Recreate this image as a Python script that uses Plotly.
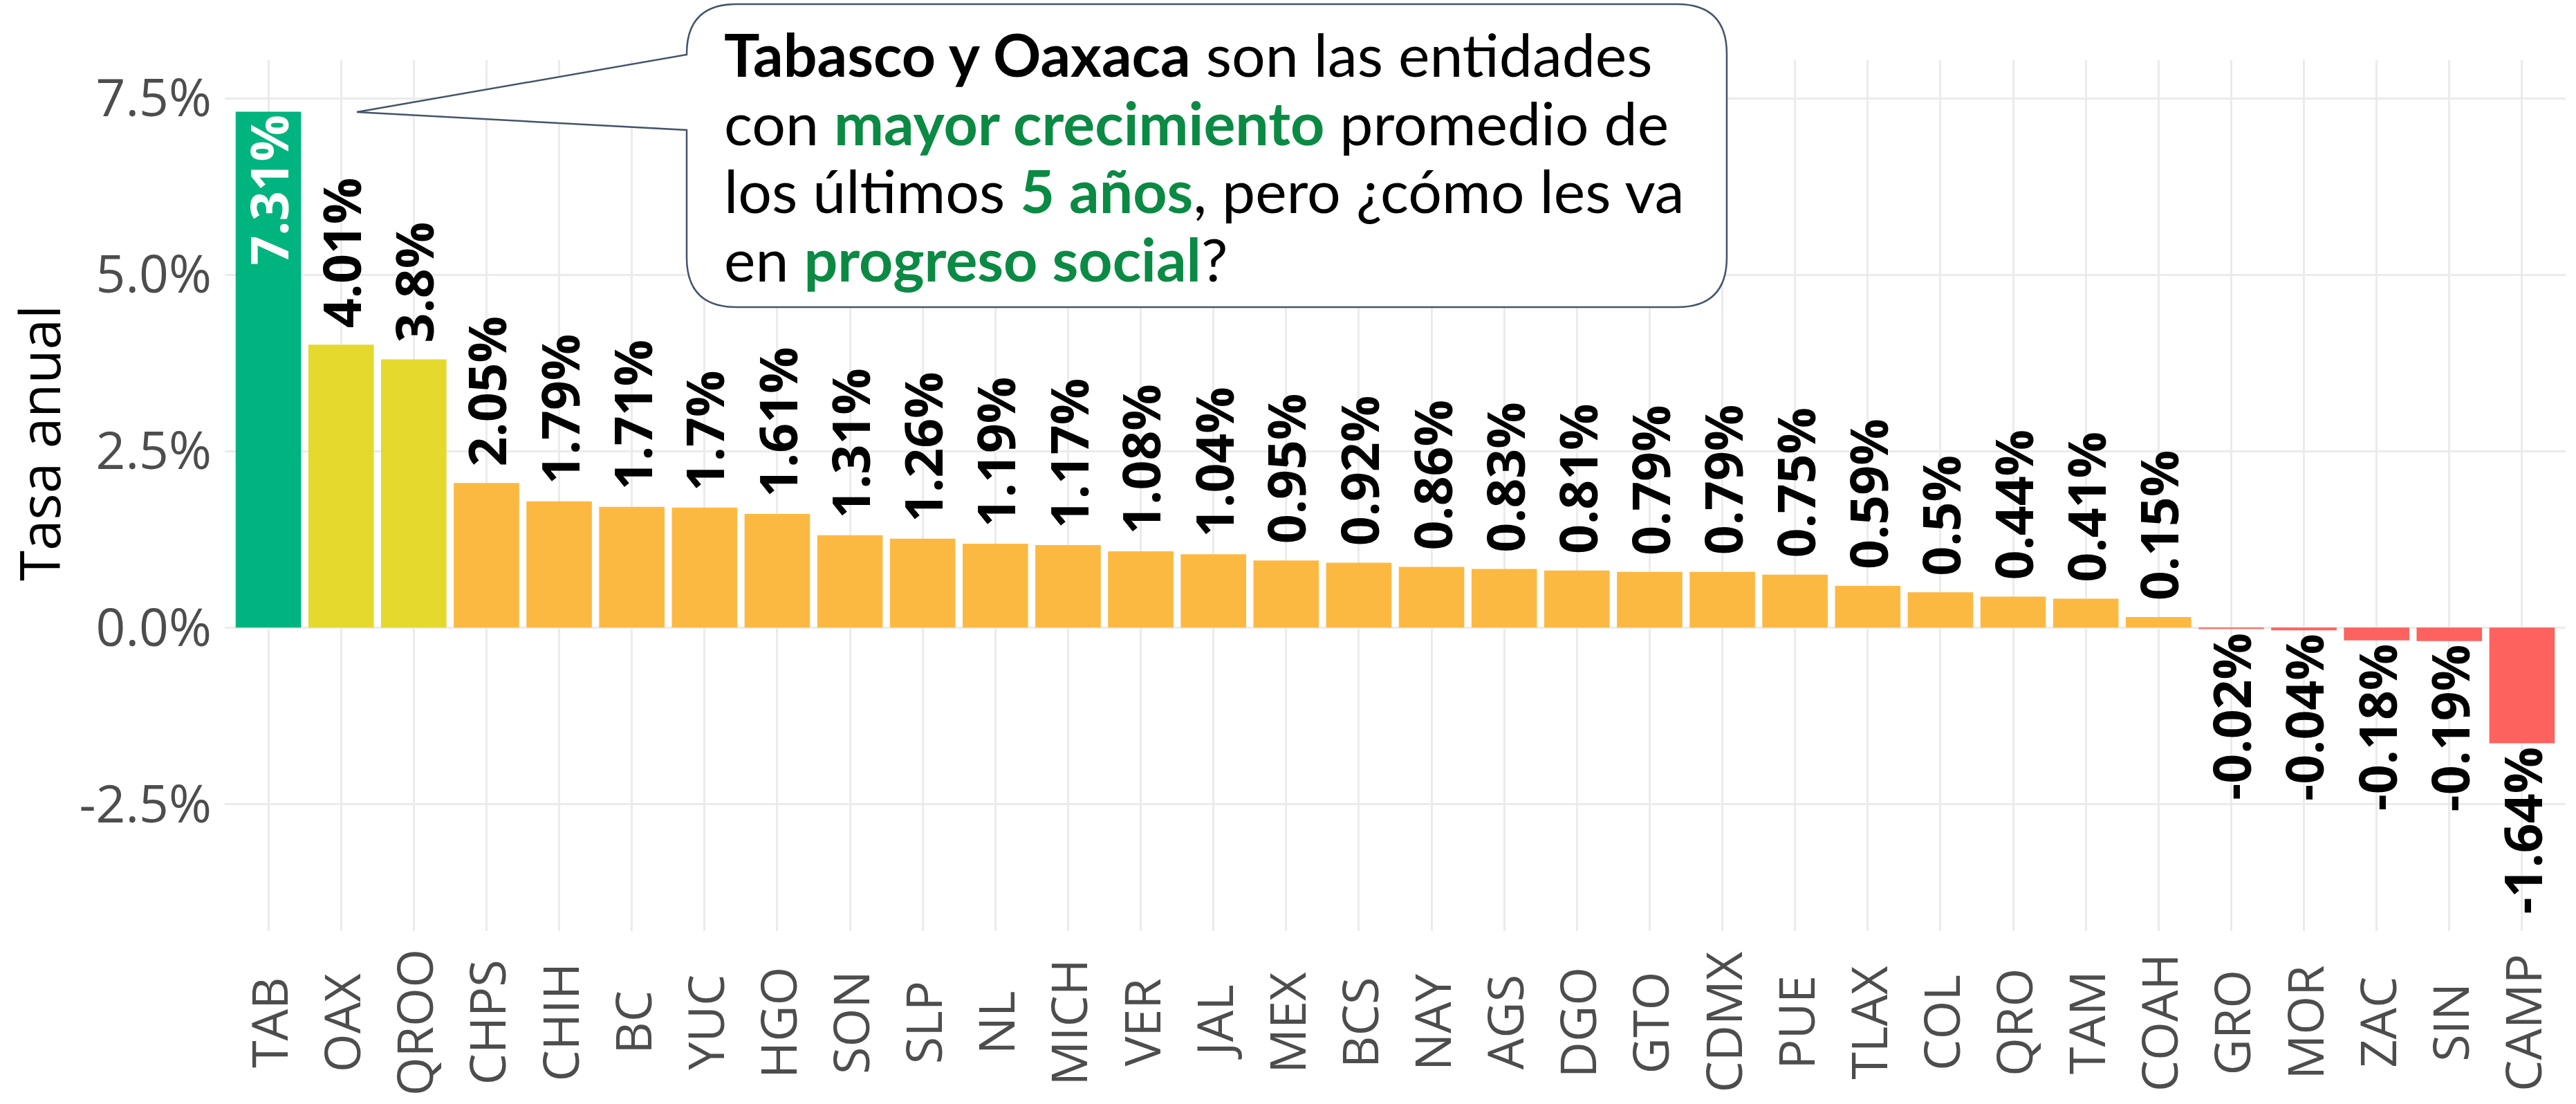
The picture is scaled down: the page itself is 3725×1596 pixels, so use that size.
import plotly.graph_objects as go

# ---------------- data ----------------
estados = ["TAB", "OAX", "QROO", "CHPS", "CHIH", "BC", "YUC", "HGO", "SON", "SLP",
           "NL", "MICH", "VER", "JAL", "MEX", "BCS", "NAY", "AGS", "DGO", "GTO",
           "CDMX", "PUE", "TLAX", "COL", "QRO", "TAM", "COAH", "GRO", "MOR", "ZAC",
           "SIN", "CAMP"]
tasa = [7.31, 4.01, 3.8, 2.05, 1.79, 1.71, 1.7, 1.61, 1.31, 1.26,
        1.19, 1.17, 1.08, 1.04, 0.95, 0.92, 0.86, 0.83, 0.81, 0.79,
        0.79, 0.75, 0.59, 0.5, 0.44, 0.41, 0.15, -0.02, -0.04, -0.18,
        -0.19, -1.64]
y_ticks = [-2.5, 0.0, 2.5, 5.0, 7.5]
y_ticktext = ["-2.5%", "0.0%", "2.5%", "5.0%", "7.5%"]
y_title = "Tasa anual"
callout_lines = [
    "<b>Tabasco y Oaxaca</b> son las entidades",
    "con <span style='color:#0b8a44'><b>mayor crecimiento</b></span> promedio de",
    "los últimos <span style='color:#0b8a44'><b>5 años</b></span>, pero ¿cómo les va",
    "en <span style='color:#0b8a44'><b>progreso social</b></span>?",
]

# ---------------- styles ----------------
W, H = 3725, 1596
L, R, T, B = 325, 15, 87, 250
PW, PH = W - L - R, H - T - B
LABEL_FONT = "Open Sans"
LABEL_SIZE = 75


def color_for(v):
    if v > 5:
        return "#00b47f"
    if v > 3:
        return "#e4d92c"
    if v >= 0:
        return "#fcb942"
    return "#fd625e"


colors = [color_for(v) for v in tasa]
n = len(estados)

fig = go.Figure()
fig.add_trace(go.Bar(x=estados, y=tasa, marker=dict(color=colors, line=dict(width=0)),
                     width=0.9, hoverinfo="x+y"))

annotations = []
vmax = max(tasa)
for cat, v in zip(estados, tasa):
    label = f"{v:g}%"
    if v == vmax:
        annotations.append(dict(x=cat, y=v, xref="x", yref="y", text=f"<b>{label}</b>",
                                textangle=-90, showarrow=False, yanchor="top", xanchor="center",
                                yshift=-2, font=dict(family=LABEL_FONT, size=LABEL_SIZE, color="white")))
    elif v >= 0:
        annotations.append(dict(x=cat, y=v, xref="x", yref="y", text=f"<b>{label}</b>",
                                textangle=-90, showarrow=False, yanchor="bottom", xanchor="center",
                                yshift=22, font=dict(family=LABEL_FONT, size=LABEL_SIZE, color="black")))
    else:
        annotations.append(dict(x=cat, y=v, xref="x", yref="y", text=f"<b>{label}</b>",
                                textangle=-90, showarrow=False, yanchor="top", xanchor="center",
                                yshift=-3, font=dict(family=LABEL_FONT, size=LABEL_SIZE, color="black")))
    # x tick labels, centred
    annotations.append(dict(x=cat, y=0, xref="x", yref="paper", text=cat, textangle=-90,
                            showarrow=False, yanchor="middle", xanchor="center", yshift=-132,
                            font=dict(family="Open Sans", size=72, color="#4d4d4d")))

# y-axis title
annotations.append(dict(x=(55 - L) / PW, y=(H - B - 641) / PH, xref="paper", yref="paper",
                        text=y_title, textangle=-90, showarrow=False, xanchor="center",
                        yanchor="middle", font=dict(family="Open Sans", size=80, color="black")))


def pp(x, y):
    return (x - L) / PW, (H - B - y) / PH


def fmt(x, y):
    a, b = pp(x, y)
    return f"{a:.5f},{b:.5f}"


# callout bubble path (pixel geometry converted to paper coords)
bx0, bx1, by0, by1, r = 993, 2497, 6, 444, 72
tip = (516, 162)
base_top, base_bot = 79, 188

path = (f"M{fmt(bx0 + r, by0)} L{fmt(bx1 - r, by0)} Q{fmt(bx1, by0)} {fmt(bx1, by0 + r)} "
        f"L{fmt(bx1, by1 - r)} Q{fmt(bx1, by1)} {fmt(bx1 - r, by1)} "
        f"L{fmt(bx0 + r, by1)} Q{fmt(bx0, by1)} {fmt(bx0, by1 - r)} "
        f"L{fmt(bx0, base_bot)} L{fmt(*tip)} L{fmt(bx0, base_top)} "
        f"L{fmt(bx0, by0 + r)} Q{fmt(bx0, by0)} {fmt(bx0 + r, by0)} Z")

shapes = [dict(type="path", path=path, xref="paper", yref="paper",
               fillcolor="white", line=dict(color="#44546a", width=2.5), layer="above")]

line_centers = [78, 176, 275, 374]
for txt, yc in zip(callout_lines, line_centers):
    xa, ya = pp(1045, yc)
    annotations.append(dict(x=xa, y=ya, xref="paper", yref="paper", text=txt, showarrow=False,
                            xanchor="left", yanchor="middle", align="left",
                            font=dict(family="Lato", size=86, color="black")))

fig.update_layout(
    width=W, height=H,
    margin=dict(l=L, r=R, t=T, b=B, pad=0),
    paper_bgcolor="white", plot_bgcolor="white",
    showlegend=False,
    bargap=0.1,
    xaxis=dict(type="category", range=[-0.6, n - 0.4], showgrid=True, gridcolor="#ebebeb",
               gridwidth=2.5, showticklabels=False, ticks="", showline=False, zeroline=False),
    yaxis=dict(range=[-4.30, 8.04], tickvals=y_ticks, ticktext=y_ticktext, showgrid=True,
               gridcolor="#ebebeb", gridwidth=2.5, zeroline=False, showline=False, ticks="",
               tickfont=dict(family="Open Sans", size=75, color="#4d4d4d"),
               ticklabelstandoff=18),
    annotations=annotations,
    shapes=shapes,
)

fig.write_html("out.html", config={"displayModeBar": False},
               post_script="document.body.style.margin='0';document.body.style.overflow='hidden';")
